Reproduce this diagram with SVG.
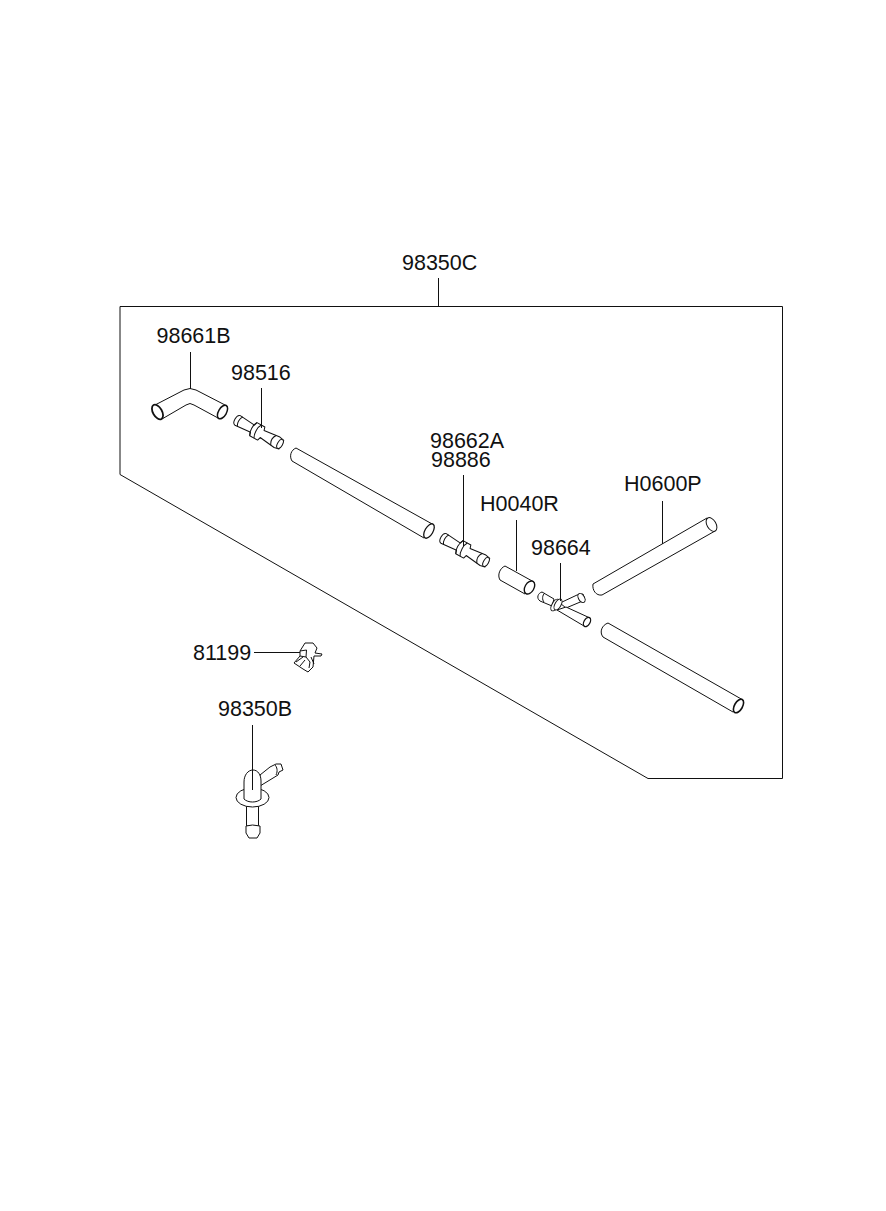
<svg xmlns="http://www.w3.org/2000/svg" width="886" height="1211" viewBox="0 0 886 1211">
<style>
text{font-family:"Liberation Sans",Arial,sans-serif;font-size:21.5px;fill:#111}
.l{fill:none;stroke:#111;stroke-width:1}
.s{fill:#fff;stroke:#111;stroke-width:1;stroke-linejoin:round}
</style>
<defs>
<g id="fitting">
<path class="s" d="M3 -5.500L20 -4L21 -7.500L30 -7.500L31 -4L48 -6L53 -5L53 5L48 6L31 4L30 7.500L21 7.500L20 4L3 5.500C-1 5 -1 -5 3 -5.500Z"/>
<path class="l" d="M6 -5.500C3.500 -3 3.500 3 6 5.500M21 -7.500C18.500 -4 18.500 4 21 7.500M26 -7.500C23.500 -4 23.500 4 26 7.500M44 -5.500C41.500 -2 41.500 2 44 5.500"/>
<ellipse class="s" cx="51.500" cy="0" rx="2.500" ry="5"/>
</g>
</defs>
<rect width="886" height="1211" fill="#fff"/>
<g id="frame-98350C">
<path class="l" d="M120 306.500H782.500V778.500H648L120 474.500Z"/>
<text x="402" y="270">98350C</text>
</g>
<g id="n98661B">
<path class="s" d="M155 405L184 390Q190 387 196 390L227 406L218 418L194 405Q190 402 186 405L162 419Z"/>
<ellipse class="s" style="stroke-width:1.800" cx="157.500" cy="412" rx="4.500" ry="8" transform="rotate(-30 157.500 412)"/>
<ellipse class="s" style="stroke-width:1.500" cx="222.500" cy="412" rx="4" ry="7.500" transform="rotate(30 222.500 412)"/>
<text x="156.500" y="343">98661B</text>
</g>
<g id="n98516">
<use href="#fitting" transform="translate(235 419) rotate(29)"/>
<text x="231" y="380">98516</text>
</g>
<g id="tube-long-1">
<path class="s" d="M296 448L434 525L424 538L292 461C289 456 291 450 296 448Z"/>
<ellipse class="s" style="stroke-width:1.300" cx="429" cy="531" rx="4" ry="8" transform="rotate(30 429 531)"/>
</g>
<g id="n98662A-98886">
<use href="#fitting" transform="translate(441 537) rotate(29)"/>
<text x="430" y="448">98662A</text>
<text x="431" y="467">98886</text>
</g>
<g id="nH0040R">
<path class="s" d="M505 566L534 582L525 594L500 580C497 575 500 568 505 566Z"/>
<ellipse class="s" style="stroke-width:1.400" cx="529.500" cy="587.500" rx="4.500" ry="7" transform="rotate(30 529.500 587.500)"/>
<text x="480" y="511">H0040R</text>
</g>
<g id="n98664">
<path class="s" d="M560 603L577 595L583 594L585 600L566 608Z"/>
<path class="s" d="M566 607L590 618L584 626L557 610Z"/>
<ellipse class="s" style="stroke-width:1.300" cx="587" cy="622" rx="3" ry="5" transform="rotate(30 587 622)"/>
<ellipse class="s" cx="581.500" cy="598" rx="3" ry="5" transform="rotate(-30 581.500 598)"/>
<path class="s" d="M542 592L554 599L552 606L540 601C536 598 538 593 542 592Z"/>
<path class="l" d="M545 593C542 595 542 600 544 602"/>
<ellipse class="s" cx="555" cy="605" rx="3" ry="6.500" transform="rotate(30 555 605)"/>
<ellipse class="s" cx="558" cy="604.500" rx="3" ry="6" transform="rotate(30 558 604.500)"/>
<text x="531" y="555">98664</text>
</g>
<g id="nH0600P">
<path class="s" d="M593 584L707 518L715 531L602 595C596 596 592 590 593 584Z"/>
<ellipse class="s" cx="711.500" cy="524.500" rx="4.500" ry="7.500" transform="rotate(-30 711.500 524.500)"/>
<text x="624" y="491">H0600P</text>
</g>
<g id="tube-long-2">
<path class="s" d="M608 623L743 700L733 712L603 637C599 632 602 625 608 623Z"/>
<ellipse class="s" style="stroke-width:1.600" cx="738.500" cy="706" rx="4" ry="7.500" transform="rotate(30 738.500 706)"/>
</g>
<g id="n81199">
<path class="s" d="M300 651L305 643L313 643L317 648L315 653L322 654L321 656L314 656L313 667L308 672L303 669L294 663L300 656Z"/>
<path class="l" d="M300 651L306.500 650L306 657L300 656M306 657L310 662L309 668M311 657L314 664M296 662L303 657M300 666L305 660"/>
<text x="193" y="660">81199</text>
</g>
<g id="n98350B">
<path class="s" d="M260 775L270 767L276 764L281 764L283 770L279 772L278 775L260 786Z"/>
<path class="l" d="M275 765C277 767 278 771 276 775"/>
<path class="s" d="M246.500 806H258.500V826H246.500Z"/>
<path class="s" d="M246 826Q252 824 260 826V833L257 838H249L246 833Z"/>
<ellipse class="s" cx="252.500" cy="797.500" rx="16.500" ry="9.500"/>
<path class="s" d="M244 799V782C244 775 248 770 253 770C258 770 261 775 261 781V799C257 803 248 803 244 799Z"/>
<text x="218" y="716">98350B</text>
</g>
<g id="connectors">
<path class="l" d="M438.500 278V306M190.500 352V389M261.500 388V428M463.500 475V546M516.500 520V571M560.500 563V601M662.500 501V544M254 652.500H300M252.500 725V790"/>
</g>
</svg>
